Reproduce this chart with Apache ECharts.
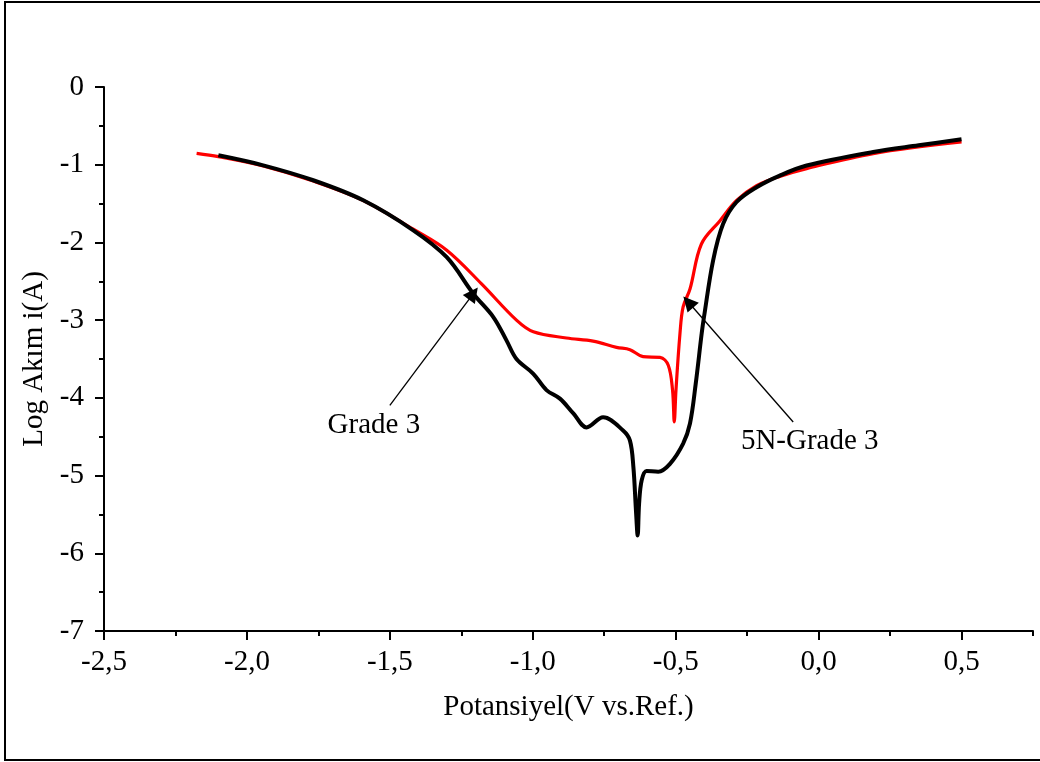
<!DOCTYPE html>
<html>
<head>
<meta charset="utf-8">
<script src="https://cdn.jsdelivr.net/npm/echarts@6/dist/echarts.min.js"></script>
<style>
  html, body { margin: 0; padding: 0; background: #fff; }
  #main { width: 1040px; height: 762px; }
</style>
</head>
<body>
<div id="main"></div>
<script>
// Grade 3 (black) - potential / log current
var grade3_x = [-2.100, -1.943, -1.768, -1.593, -1.418, -1.301, -1.208, -1.138, -1.092, -1.057,
  -0.998, -0.952, -0.905, -0.858, -0.812, -0.754, -0.684, -0.660, -0.648, -0.639, -0.633, -0.628,
  -0.619, -0.602, -0.561, -0.520, -0.474, -0.450, -0.430, -0.409, -0.401, -0.369, -0.334, -0.287,
  -0.217, -0.136, -0.042, 0.191, 0.350, 0.500]
var grade3_y = [-0.879, -1.008, -1.200, -1.458, -1.844, -2.190, -2.660, -2.960, -3.260, -3.500,
  -3.690, -3.900, -4.010, -4.200, -4.380, -4.250, -4.420, -4.550, -4.890, -5.450, -5.770, -5.360,
  -5.060, -4.940, -4.950, -4.850, -4.590, -4.330, -3.820, -3.170, -2.960, -2.230, -1.760, -1.480,
  -1.290, -1.140, -1.010, -0.836, -0.750, -0.673]

// 5N-Grade 3 (red)
var n5_x = [-2.176, -2.100, -1.943, -1.768, -1.593, -1.418, -1.301, -1.180, -1.057, -0.998, -0.882,
  -0.789, -0.707, -0.660, -0.614, -0.555, -0.526, -0.511, -0.505, -0.499, -0.485, -0.474, -0.450,
  -0.410, -0.345, -0.287, -0.217, -0.136, -0.042, 0.191, 0.500]
var n5_y = [-0.853, -0.895, -1.015, -1.210, -1.460, -1.830, -2.100, -2.530, -3.000, -3.150, -3.230,
  -3.270, -3.350, -3.380, -3.470, -3.480, -3.580, -3.900, -4.310, -3.900, -3.170, -2.830, -2.600,
  -2.020, -1.720, -1.460, -1.270, -1.150, -1.050, -0.857, -0.708]

var x_major = [-2.5, -2.0, -1.5, -1.0, -0.5, 0.0, 0.5]
var x_minor = [-2.25, -1.75, -1.25, -0.75, -0.25, 0.25, 0.75]

// annotations: [label, text pos, arrow start, arrow tip]
var notes = [
  ['Grade 3', [-1.556, -4.36], [-1.500, -4.097], [-1.208, -2.658]],
  ['5N-Grade 3', [-0.031, -4.56], [-0.089, -4.310], [-0.456, -2.767]]
]

function pairs (xs, ys) {
  var out = []
  for (var i = 0; i < xs.length; i++) {
    out.push([xs[i], ys[i]])
  }
  return out
}

var serif = "'Liberation Serif', 'Times New Roman', serif"

var myChart = echarts.init(document.getElementById('main'))

var option = {
  animation: false,
  textStyle: { fontFamily: serif },
  graphic: [{
    type: 'rect',
    shape: { x: 5, y: 2, width: 1040, height: 758 },
    style: { fill: 'none', stroke: '#000', lineWidth: 2 },
    silent: true
  }],
  grid: { left: 104, top: 87, right: 7, bottom: 131 },
  xAxis: [{
    type: 'value',
    min: -2.5,
    max: 0.75,
    interval: 0.5,
    position: 'bottom',
    name: 'Potansiyel(V vs.Ref.)',
    nameLocation: 'middle',
    nameGap: 62,
    nameTextStyle: { fontSize: 29, color: '#000', fontFamily: serif },
    axisLine: { onZero: false, lineStyle: { color: '#000', width: 2 } },
    axisTick: { customValues: x_major, length: 9, lineStyle: { width: 2, color: '#000' } },
    axisLabel: {
      customValues: x_major,
      margin: 17,
      fontSize: 29,
      color: '#000',
      fontFamily: serif,
      formatter: function (v) { return v.toFixed(1).replace('.', ',') }
    },
    splitLine: { show: false }
  }, {
    type: 'value',
    min: -2.5,
    max: 0.75,
    position: 'bottom',
    axisLine: { show: false, onZero: false },
    axisTick: { customValues: x_minor, length: 5, lineStyle: { width: 2, color: '#000' } },
    axisLabel: { show: false },
    splitLine: { show: false }
  }],
  yAxis: {
    type: 'value',
    min: -7,
    max: 0,
    interval: 1,
    name: 'Log Akım i(A)',
    nameLocation: 'middle',
    nameGap: 49,
    nameTextStyle: { fontSize: 29, color: '#000', fontFamily: serif },
    axisLine: { show: true, onZero: false, lineStyle: { color: '#000', width: 2 } },
    axisTick: { length: 9, lineStyle: { width: 2, color: '#000' } },
    minorTick: { show: true, splitNumber: 2, length: 5, lineStyle: { width: 2, color: '#000' } },
    axisLabel: { margin: 20, fontSize: 29, color: '#000', fontFamily: serif },
    splitLine: { show: false }
  },
  series: [{
    name: '5N-Grade 3',
    type: 'line',
    data: pairs(n5_x, n5_y),
    showSymbol: false,
    smooth: 0.35,
    lineStyle: { color: '#ff0000', width: 3.2 }
  }, {
    name: 'Grade 3',
    type: 'line',
    data: pairs(grade3_x, grade3_y),
    showSymbol: false,
    smooth: 0.35,
    lineStyle: { color: '#000', width: 4 },
    markLine: {
      silent: true,
      symbol: ['none', 'triangle'],
      symbolSize: 15,
      label: { show: false },
      lineStyle: { color: '#000', width: 1.3, type: 'solid' },
      data: notes.map(function (n) { return [{ coord: n[2] }, { coord: n[3] }] })
    },
    markPoint: {
      silent: true,
      symbol: 'circle',
      symbolSize: 0,
      label: { show: true, position: 'inside', fontSize: 29, color: '#000', fontFamily: serif, formatter: '{b}' },
      data: notes.map(function (n) { return { name: n[0], coord: n[1] } })
    }
  }]
}

myChart.setOption(option)
</script>
</body>
</html>
